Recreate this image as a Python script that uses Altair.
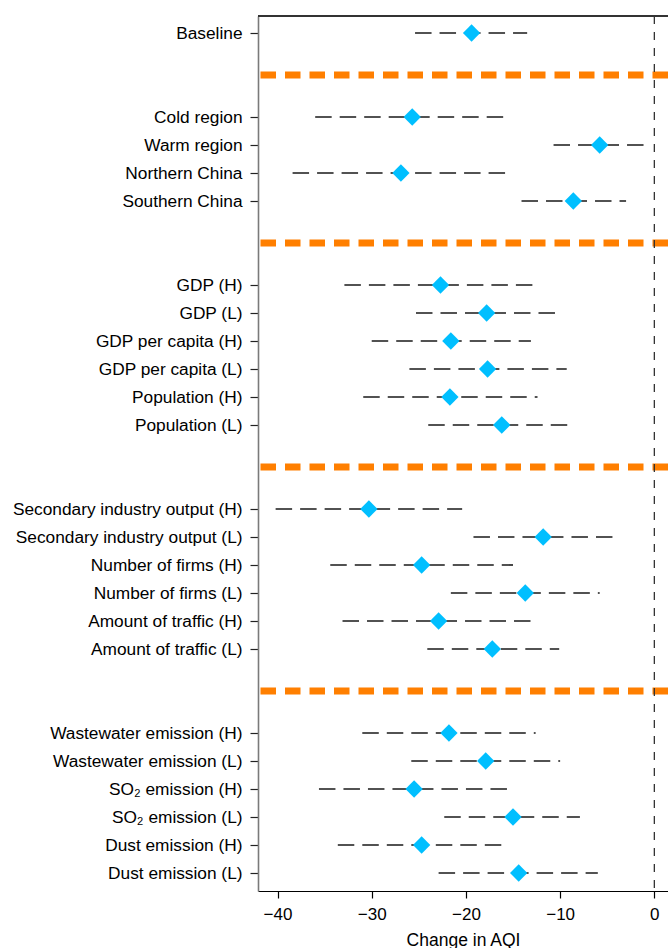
import altair as alt
import pandas as pd

# Subgroup estimates of the change in AQI with confidence bounds
groups = [
    ["Baseline"],
    ["Cold region", "Warm region", "Northern China", "Southern China"],
    ["GDP (H)", "GDP (L)", "GDP per capita (H)", "GDP per capita (L)",
     "Population (H)", "Population (L)"],
    ["Secondary industry output (H)", "Secondary industry output (L)",
     "Number of firms (H)", "Number of firms (L)",
     "Amount of traffic (H)", "Amount of traffic (L)"],
    ["Wastewater emission (H)", "Wastewater emission (L)",
     "SO\u2082 emission (H)", "SO\u2082 emission (L)",
     "Dust emission (H)", "Dust emission (L)"],
]

estimate = [-19.4,
            -25.7, -5.8, -26.9, -8.6,
            -22.7, -17.8, -21.6, -17.7, -21.7, -16.2,
            -30.3, -11.8, -24.7, -13.7, -22.9, -17.2,
            -21.8, -17.9, -25.5, -15.0, -24.7, -14.4]
lower = [-25.4,
         -36.0, -10.7, -38.4, -14.1,
         -32.9, -25.3, -30.0, -26.0, -30.9, -24.0,
         -40.2, -19.2, -34.4, -21.6, -33.1, -24.1,
         -31.0, -25.8, -35.6, -22.3, -33.6, -22.9]
upper = [-13.5,
         -15.9, -1.1, -15.7, -3.0,
         -12.9, -10.5, -13.1, -9.3, -12.4, -9.2,
         -20.4, -4.4, -15.0, -5.8, -13.1, -10.1,
         -12.6, -10.0, -15.5, -7.9, -16.1, -6.0]

x_ticks = [-40, -30, -20, -10, 0]

# Row slots: one per estimate, a separator half-way through a
# three-slot gap between consecutive groups
labels, rows, separators = [], [], []
slot = 0
for gi, g in enumerate(groups):
    for name in g:
        labels.append(name)
        rows.append(slot)
        slot += 1
    if gi < len(groups) - 1:
        separators.append(slot - 1 + 1.5)
        slot += 2

df = pd.DataFrame({"label": labels, "pos": rows, "est": estimate,
                   "lo": lower, "hi": upper})
sep_df = pd.DataFrame({"pos": separators})
zero_df = pd.DataFrame({"lo": [0]})

n_slots = rows[-1] + 1
label_array = [""] * n_slots
for name, r in zip(labels, rows):
    label_array[r] = name
label_expr = "[" + ",".join("'" + s + "'" for s in label_array) + "][datum.value]"

W, H = 410, 875
FONT = "Liberation Sans"

xscale = alt.Scale(domain=[-42.07, 1.45], nice=False, zero=False)
yscale = alt.Scale(domain=[-0.607, rows[-1] + 0.643], reverse=True,
                   nice=False, zero=False)

xaxis = alt.Axis(values=x_ticks, title="Change in AQI", grid=False,
                 tickSize=7, tickColor="#000000", domainColor="#000000",
                 domainWidth=1.2, tickWidth=1.2, labelFontSize=17,
                 labelFont=FONT, labelColor="#000000", labelPadding=8,
                 titleFont=FONT, titleFontSize=17.5, titleFontWeight="normal",
                 titleColor="#000000", titlePadding=9)
yaxis = alt.Axis(values=rows, labelExpr=label_expr, title=None, grid=False,
                 tickSize=8, tickColor="#222222", tickWidth=1.2,
                 domainColor="#7a7a7a", domainWidth=1.6, labelFontSize=17.3,
                 labelFont=FONT, labelColor="#000000", labelPadding=8,
                 labelLimit=0, labelBaseline="middle", labelOffset=0.5)

separator = alt.Chart(sep_df).mark_rule(
    color="#FF7F00", strokeWidth=7, strokeDash=[15.5, 9], strokeCap="butt"
).encode(y=alt.Y("pos:Q", scale=yscale, axis=yaxis))

zero_line = alt.Chart(zero_df).mark_rule(
    color="#333333", strokeWidth=1.3, strokeDash=[8, 8]
).encode(x=alt.X("lo:Q", scale=xscale, axis=xaxis))

ci = alt.Chart(df).mark_rule(
    color="#1a1a1a", strokeWidth=1.6, strokeDash=[16.5, 8], strokeCap="butt"
).encode(
    x=alt.X("lo:Q", scale=xscale, axis=xaxis),
    x2="hi:Q",
    y=alt.Y("pos:Q", scale=yscale, axis=yaxis),
)

points = alt.Chart(df).mark_point(
    shape="diamond", filled=True, size=300, color="#00BFFF", opacity=1
).encode(
    x=alt.X("est:Q", scale=xscale, axis=xaxis),
    y=alt.Y("pos:Q", scale=yscale, axis=yaxis),
)

top_edge = alt.Chart(sep_df).mark_rule(color="#333333", strokeWidth=1.3).encode(
    x=alt.value(0), x2=alt.value(W), y=alt.value(0)
)

chart = alt.layer(separator, zero_line, ci, points, top_edge).properties(
    width=W, height=H,
    padding={"left": 258, "top": 16, "right": 0, "bottom": 57},
    autosize=alt.AutoSizeParams(type="none"),
    background="white",
).configure_view(stroke=None)

chart.save("out.html", embed_options={"renderer": "svg", "actions": False})
